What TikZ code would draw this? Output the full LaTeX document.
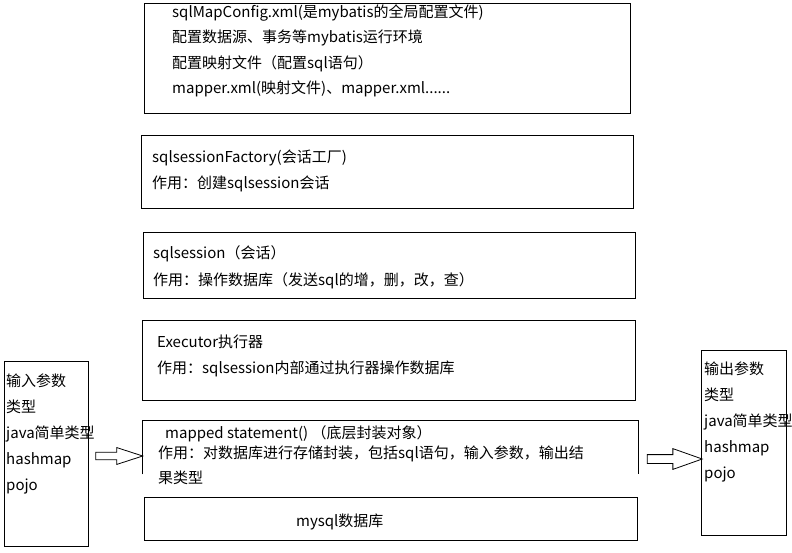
\documentclass[tikz,border=0pt]{standalone}
\usepackage{fontspec}
\newfontfamily\cjk{Noto Sans CJK SC}
\usetikzlibrary{shapes.arrows}

\begin{document}
\begin{tikzpicture}[x=1pt, y=-1pt,
    box/.style={draw, line width=1pt, anchor=north west, inner sep=0pt},
    txt/.style={anchor=north west, inner sep=0pt, align=left, font=\cjk\fontsize{15}{#1}\selectfont},
    txt/.default=25.5,
    blockarrow/.style={draw, line width=0.8pt, single arrow, inner sep=3.3pt, single arrow head extend=4.7pt, single arrow tip angle=36}]
    \useasboundingbox (0,0) rectangle (792,552);
    \fill[white] (0,0) rectangle (792,552);

    \node[box, minimum width=486pt, minimum height=110pt] (cfg) at (144,3) {};
    \node[box, minimum width=492pt, minimum height=73pt] (fac) at (141,135) {};
    \node[box, minimum width=492pt, minimum height=66pt] (ses) at (143,232) {};
    \node[box, minimum width=493pt, minimum height=80pt] (exe) at (142,320) {};
    \node[anchor=north west, inner sep=0pt, minimum width=496pt, minimum height=54pt] (mst) at (142,420) {};
    \draw[line width=1pt] (mst.south west) -- (mst.north west) -- (mst.north east) -- (mst.south east);
    \node[box, minimum width=493pt, minimum height=43pt] (db) at (144,497) {};
    \node[box, minimum width=84pt, minimum height=185pt] (inBox) at (4,361) {};
    \node[box, minimum width=85pt, minimum height=185pt] (outBox) at (701,350) {};

    \node[txt] (cfgText) at (172,4.5) {sqlMapConfig.xml(是mybatis的全局配置文件)\\配置数据源、事务等mybatis运行环境\\配置映射文件（配置sql语句）\\mapper.xml(映射文件)、mapper.xml......};
    \node[txt=26] (facText) at (152,149.5) {sqlsessionFactory(会话工厂)\\作用：创建sqlsession会话};
    \node[txt=27] (sesText) at (153,245.5) {sqlsession（会话）\\作用：操作数据库（发送sql的增，删，改，查）};
    \node[txt=26] (exeText) at (157,334.5) {Executor执行器\\作用：sqlsession内部通过执行器操作数据库};
    \node[txt] (mstHead) at (165,425.5) {mapped statement() （底层封装对象）};
    \node[txt=25] (mstText) at (158,445.5) {作用：对数据库进行存储封装，包括sql语句，输入参数，输出结\\果类型};
    \node[txt] (dbText) at (296,513.5) {mysql数据库};
    \node[txt=26] (inText) at (6,373.5) {输入参数\\类型\\java简单类型\\hashmap\\pojo};
    \node[txt=26] (outText) at (704,361.5) {输出参数\\类型\\java简单类型\\hashmap\\pojo};

    \node[blockarrow, minimum height=47pt] (arrIn) at (113.5,456) {};
    \node[blockarrow, minimum height=55pt, inner sep=4pt, single arrow head extend=6pt, single arrow tip angle=39] (arrOut) at (668.5,459) {};
\end{tikzpicture}
\end{document}
